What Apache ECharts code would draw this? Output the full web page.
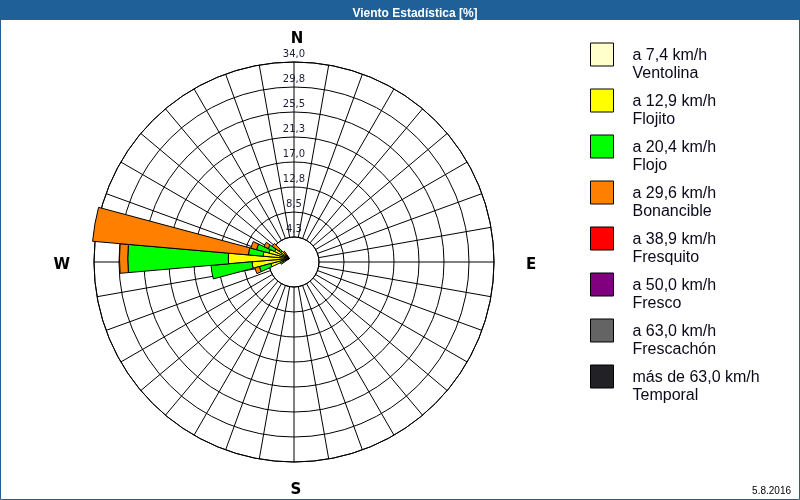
<!DOCTYPE html>
<html><head><meta charset="utf-8">
<script src="https://cdn.jsdelivr.net/npm/echarts@6/dist/echarts.min.js"></script>
<style>html,body{margin:0;padding:0;background:#fff}#c{width:800px;height:500px}</style>
</head><body><div id="c"></div>
<script>
// ---- data ----
const directions = [0,10,20,30,40,50,60,70,80,90,100,110,120,130,140,150,160,170,180,190,200,210,220,230,240,250,260,270,280,290,300,310,320,330,340,350];
const ringTicks = [4.25, 8.5, 12.75, 17, 21.25, 25.5, 29.75, 34];
const ringLabels = ['4,3','8,5','12,8','17,0','21,3','25,5','29,8','34,0'];
const compassAngles = [0, 90, 180, 270];
const compassLabels = ['N','E','S','W'];
const speedNames = ['Ventolina','Flojito','Flojo','Bonancible','Fresquito','Fresco','Frescachón','Temporal'];
const speedLimits = ['a 7,4 km/h','a 12,9 km/h','a 20,4 km/h','a 29,6 km/h','a 38,9 km/h','a 50,0 km/h','a 63,0 km/h','más de 63,0 km/h'];
const ventolina  = [0,0,0,0,0,0,0,0,0,0, 0,0,0,0,0,0,0,0,0,0, 0,0,0,0,0,0.3,0.4,0.5,0.5,0.4, 0.3,0,0,0,0,0];
const flojito    = [0,0,0,0,0,0,0,0,0,0, 0,0,0,0,0,0,0,0,0,0, 0,0,0,0,1.2,3.0,6.0,9.9,4.0,3.2, 2.5,1.8,1.0,0,0,0];
const flojo      = [0,0,0,0,0,0,0,0,0,0, 0,0,0,0,0,0,0,0,0,0, 0,0,0,0,0.5,2.0,7.0,17.1,2.5,2.2, 1.2,0.4,0,0,0,0];
const bonancible = [0,0,0,0,0,0,0,0,0,0, 0,0,0,0,0,0,0,0,0,0, 0,0,0,0,0,0.8,0,1.4,26.6,1.0, 0.8,1.4,0.5,0,0,0];
const fresquito  = [0,0,0,0,0,0,0,0,0,0, 0,0,0,0,0,0,0,0,0,0, 0,0,0,0,0,0,0,0,0,0, 0,0,0,0,0,0];
const fresco     = [0,0,0,0,0,0,0,0,0,0, 0,0,0,0,0,0,0,0,0,0, 0,0,0,0,0,0,0,0,0,0, 0,0,0,0,0,0];
const frescachon = [0,0,0,0,0,0,0,0,0,0, 0,0,0,0,0,0,0,0,0,0, 0,0,0,0,0,0,0,0,0,0, 0,0,0,0,0,0];
const temporal   = [0,0,0,0,0,0,0,0,0,0, 0,0,0,0,0,0,0,0,0,0, 0,0,0,0,0,0,0,0,0,0, 0,0,0,0,0,0];
const speedValues = [ventolina, flojito, flojo, bonancible, fresquito, fresco, frescachon, temporal];

// ---- styles ----
const colors = ['#FFFFCC','#FFFF00','#00FF00','#FF8000','#FF0000','#800080','#646464','#222226'];
const BAR_BLUE = '#1F6099';
const GRID_CENTER = [294, 262];
const DATA_CENTER = [289.5, 258.5];
const compassFont = {fontFamily: 'DejaVu Sans', fontWeight: 'bold', fontSize: 15, color: '#000'};

const chart = echarts.init(document.getElementById('c'), null, {renderer: 'canvas'});
const option = {
  animation: false,
  backgroundColor: '#fff',
  title: {
    text: 'Viento Estadística [%]', left: 410, textAlign: 'center', top: 3, z: 10,
    textStyle: {color: '#fff', fontFamily: 'Liberation Sans', fontWeight: 'bold', fontSize: 12}
  },
  graphic: [
    {type: 'rect', z: 1, shape: {x: 0, y: 0, width: 800, height: 20}, style: {fill: BAR_BLUE}},
    {type: 'rect', z: 1, shape: {x: 0.5, y: 0.5, width: 799, height: 499}, style: {fill: null, stroke: BAR_BLUE, lineWidth: 1}},
    {type: 'text', z: 1, right: 9, bottom: 4, style: {text: '5.8.2016', font: '10px "Liberation Sans"', fill: '#000'}}
  ],
  legend: {
    orient: 'vertical', left: 590, top: 27, padding: 0,
    itemWidth: 23, itemHeight: 23, itemGap: -9, icon: 'rect', selectedMode: false,
    itemStyle: {borderColor: '#000', borderWidth: 1},
    formatter: function (name) { const i = speedNames.indexOf(name); return '{s|}\n' + speedLimits[i] + '\n' + name; },
    textStyle: {
      fontFamily: 'Liberation Sans', fontSize: 16, lineHeight: 17.5, color: '#0a0a1a', padding: [0, 0, 0, 14],
      rich: {s: {height: 20, lineHeight: 20, fontSize: 16}}
    }
  },
  polar: [
    {center: GRID_CENTER, radius: [25, 200]},
    {center: DATA_CENTER, radius: [0, 200]}
  ],
  angleAxis: [
    {
      polarIndex: 0, type: 'value', min: 0, max: 360, interval: 10, startAngle: 90, clockwise: true,
      axisLine: {show: true, lineStyle: {color: '#000', width: 1}},
      axisTick: {show: false},
      splitLine: {show: true, lineStyle: {color: '#000', width: 1}},
      axisLabel: {
        show: true, margin: 15,
        formatter: function (v) { const i = compassAngles.indexOf(v); return i < 0 ? '' : '{c' + i + '|' + compassLabels[i] + '}'; },
        rich: {
          c0: Object.assign({padding: [0, 0, 0, 6]}, compassFont),
          c1: Object.assign({padding: [7, 0, 0, 17]}, compassFont),
          c2: Object.assign({padding: [6, 0, 0, 4]}, compassFont),
          c3: Object.assign({padding: [7, 9, 0, 0]}, compassFont)
        }
      }
    },
    {
      polarIndex: 1, type: 'category', data: directions, startAngle: 95, clockwise: true, show: false,
      axisLine: {show: false}, axisTick: {show: false}, axisLabel: {show: false}, splitLine: {show: false}
    }
  ],
  radiusAxis: [
    {
      polarIndex: 0, type: 'value', min: 4.25, max: 34, interval: 4.25,
      axisLine: {show: false}, axisTick: {show: false},
      splitLine: {show: true, lineStyle: {color: '#000', width: 1}},
      axisLabel: {
        show: true, margin: 0, align: 'center', verticalAlign: 'bottom',
        fontFamily: 'DejaVu Sans', fontSize: 10, color: '#1c1c3c', padding: [0, 0, 3, 0],
        formatter: function (v) { const i = ringTicks.findIndex(t => Math.abs(t - v) < 1e-6); return i < 0 ? '' : ringLabels[i]; }
      }
    },
    {
      polarIndex: 1, type: 'value', min: 0, max: 34, show: false,
      axisLine: {show: false}, axisTick: {show: false}, axisLabel: {show: false}, splitLine: {show: false}
    }
  ],
  series: speedNames.map(function (name, k) {
    return {
      type: 'bar', name: name, coordinateSystem: 'polar', polarIndex: 1, stack: 'viento',
      barCategoryGap: '0%', barGap: '0%', z: 5, silent: true,
      data: speedValues[k].map(function (v) { return v === 0 ? '-' : v; }),
      itemStyle: {color: colors[k], borderColor: '#000', borderWidth: 1}
    };
  })
};
chart.setOption(option);
</script>
</body></html>
